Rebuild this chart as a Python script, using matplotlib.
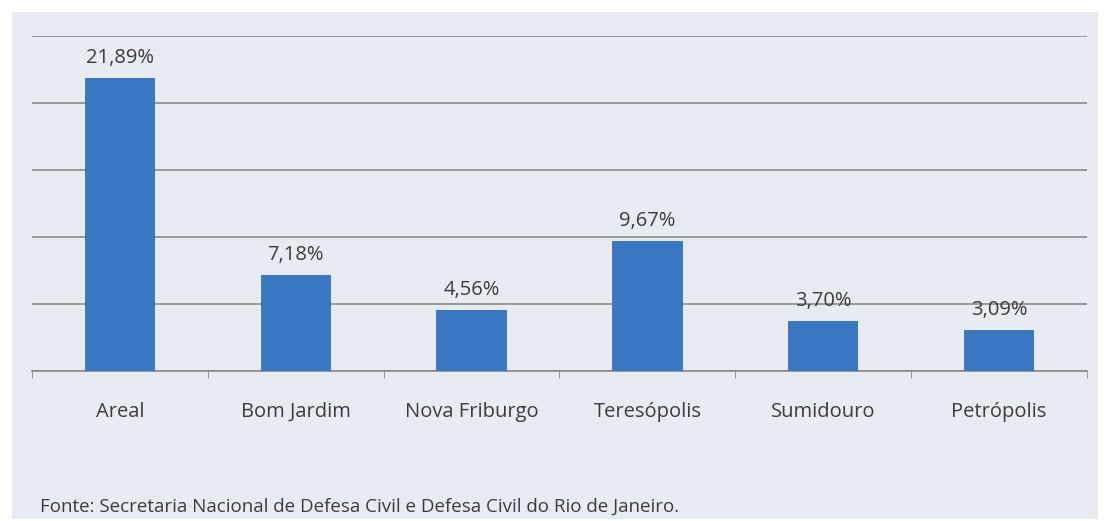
import numpy as np
import matplotlib.pyplot as plt
from matplotlib.patches import Rectangle

cidades = ['Areal', 'Bom Jardim', 'Nova Friburgo', 'Teresópolis', 'Sumidouro', 'Petrópolis']
valores = [21.89, 7.18, 4.56, 9.67, 3.70, 3.09]
rotulos = ['21,89%', '7,18%', '4,56%', '9,67%', '3,70%', '3,09%']
fonte = 'Fonte: Secretaria Nacional de Defesa Civil e Defesa Civil do Rio de Janeiro.'

plt.rcParams['font.family'] = ['Open Sans', 'DejaVu Sans']

fig = plt.figure(figsize=(11.06, 5.21), dpi=100, facecolor='white')
# painel de fundo
fig.patches.append(Rectangle((12/1106, 2/521), 1086/1106, 507/521, transform=fig.transFigure,
                             facecolor='#e9ebf3', edgecolor='none', zorder=-5))

ax = fig.add_axes([32/1106, 150/521, 1055/1106, 335/521])
ax.set_zorder(2)
ax.set_facecolor('none')
x = np.arange(len(cidades))
ax.bar(x, valores, width=0.4, color='#3a78c2', zorder=3)
for xi, v, r in zip(x, valores, rotulos):
    ax.text(xi, v + 0.75, r, ha='center', va='bottom', fontsize=14.5, color='#3c3c3c')

ax.set_xlim(-0.5, len(cidades) - 0.5)
ax.set_ylim(0, 25)
ax.set_yticks(np.arange(0, 26, 5))
ax.set_yticklabels([])
ax.tick_params(axis='y', length=0)
ax.grid(axis='y', color='#8a8a8a', linewidth=1.2, zorder=1)
ax.set_xticks(x)
ax.set_xticklabels(cidades, fontsize=14.5, color='#3c3c3c')
for t in ax.get_xticklabels():
    t.set_va('baseline')
ax.set_xticks(np.arange(-0.5, len(cidades)), minor=True)
ax.tick_params(axis='x', which='major', length=0, pad=33)
ax.tick_params(axis='x', which='minor', length=5, color='#8a8a8a')
for s in ['top', 'right', 'left']:
    ax.spines[s].set_visible(False)
ax.spines['bottom'].set_color('#8a8a8a')
ax.spines['bottom'].set_linewidth(1.2)

fig.text(40/1106, 1 - 507/521, fonte, fontsize=13.5, color='#3c3c3c', va='center', ha='left')

fig.savefig('out.png', dpi=100, facecolor='white')
